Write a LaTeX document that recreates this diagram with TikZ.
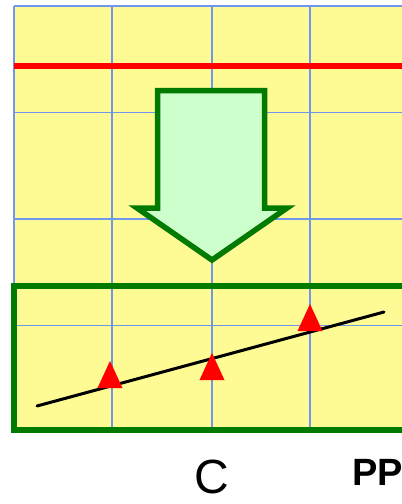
\documentclass[tikz,border=0pt]{standalone}
\usepackage{fontspec}
\setmainfont{Liberation Sans}
\usepackage{tikz}
\usetikzlibrary{positioning}
\usepackage{xcolor}
\definecolor{chartyellow}{HTML}{FFFB94}
\definecolor{chartblue}{HTML}{7096F0}
\definecolor{chartgreen}{HTML}{007A00}
\definecolor{chartmint}{HTML}{CCFFCC}

\begin{document}
\begin{tikzpicture}[x=1pt,y=-1pt,
  gridline/.style={draw=chartblue,line width=1.3pt},
  limitline/.style={draw=red,line width=5.5pt},
  greenframe/.style={draw=chartgreen,line width=5.5pt},
  downarrow/.style={draw=chartgreen,line width=5.5pt,fill=chartmint},
  trend/.style={draw=black,line width=3pt,line cap=round},
  marker/.style={fill=red},
  biglabel/.style={font=\fontsize{48}{48}\selectfont,inner sep=0pt,text depth=0pt},
  sidelabel/.style={font=\fontsize{38}{38}\selectfont\bfseries,inner sep=0pt}
]
\useasboundingbox (0,0) rectangle (402,504);
\clip (0,0) rectangle (402,504);
% chart background and grid
\fill[chartyellow] (14,6) rectangle (420,430);
\foreach \x in {14,112,212,310}
  \draw[gridline] (\x,6) -- (\x,430);
\foreach \y in {6,112.5,219,325.5}
  \draw[gridline] (14,\y) -- (420,\y);
\draw[limitline] (14,66) -- (420,66);
% big arrow
\draw[downarrow] (157.5,90.5) -- (264.5,90.5) -- (264.5,208) -- (287,208)
  -- (212,260) -- (137,208) -- (157.5,208) -- cycle;
% lower frame with fitted line
\draw[greenframe] (14,286) rectangle (420,430);
\coordinate (lineStart) at (37,406);
\coordinate (lineEnd) at (384,312);
\draw[trend] (lineStart) -- (lineEnd);
\foreach \px/\py in {110/388,212/380,310/331}
  \fill[marker] (\px-12.5,\py) -- (\px+12.5,\py) -- (\px,\py-27) -- cycle;
% labels
\node[biglabel,anchor=base] (cLabel) at (212,493) {C};
\node[sidelabel,anchor=base west] (ppLabel) at (352,485) {PP};
\end{tikzpicture}
\end{document}
